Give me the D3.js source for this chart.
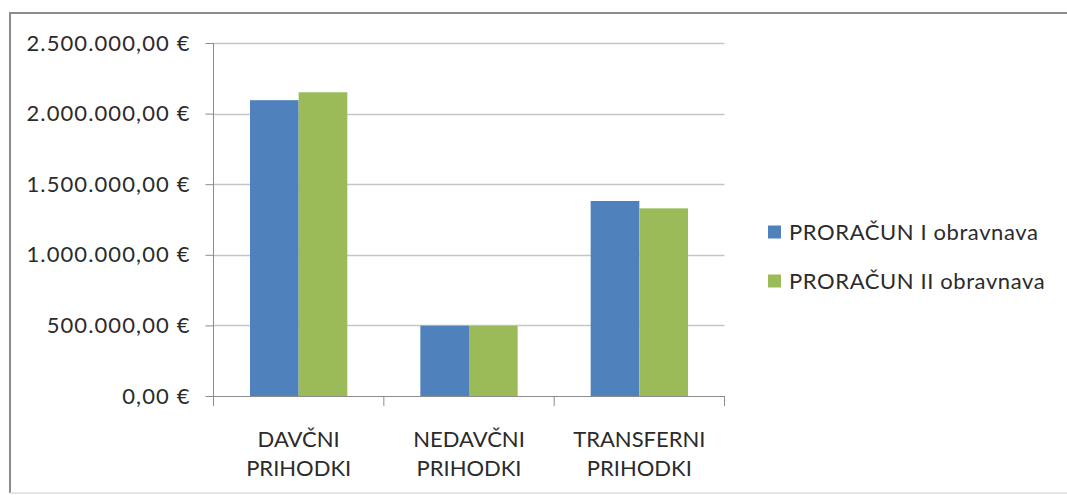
<!DOCTYPE html>
<html><head><meta charset="utf-8">
<script src="https://cdn.jsdelivr.net/npm/d3@7"></script>
<style>body{margin:0;background:#fff}svg{display:block}</style>
</head><body>
<svg id="c" width="1067" height="495"></svg>
<script>
const categories = [["DAVČNI","PRIHODKI"],["NEDAVČNI","PRIHODKI"],["TRANSFERNI","PRIHODKI"]];
const seriesNames = ["PRORAČUN I obravnava","PRORAČUN II obravnava"];
const seriesI = [2095000, 498000, 1381000];
const seriesII = [2151000, 497000, 1329000];
const yTicks = [0, 500000, 1000000, 1500000, 2000000, 2500000];
const colors = ["#4F81BD","#9BBB59"];

(function(){
const svg = d3.select("#c");
const font = "Lato, 'Open Sans', sans-serif";
const txt = "#2b2b2b";
// frame
svg.append("line").attr("x1",10).attr("x2",1067).attr("y1",13).attr("y2",13).attr("stroke","#8c8c8c").attr("stroke-width",2);
svg.append("line").attr("x1",10).attr("x2",10).attr("y1",12).attr("y2",493).attr("stroke","#8c8c8c").attr("stroke-width",2);
svg.append("line").attr("x1",10).attr("x2",1067).attr("y1",493).attr("y2",493).attr("stroke","#dcdcdc").attr("stroke-width",1.5);

const pL = 213.5, pR = 724.5, pT = 43, pB = 396;
const y = d3.scaleLinear().domain([0,2500000]).range([pB, pT]);
const x0 = d3.scaleBand().domain(d3.range(categories.length)).range([pL,pR]).padding(0);
const x1 = d3.scaleBand().domain(d3.range(seriesNames.length)).range([0,x0.bandwidth()]).paddingInner(0).paddingOuter(0.75);

const fmt = v => {
  const s = d3.format(",.2f")(v).replace(/,/g,"#").replace(".",",").replace(/#/g,".");
  return s + " €";
};

// gridlines
svg.append("g").selectAll("line").data(yTicks.filter(d=>d>0)).join("line")
  .attr("x1",pL).attr("x2",pR).attr("y1",d=>Math.round(y(d))+0.5).attr("y2",d=>Math.round(y(d))+0.5)
  .attr("stroke","#c6c6c6").attr("stroke-width",1.5);

// y axis
const yAxis = d3.axisLeft(y).tickValues(yTicks).tickFormat(fmt).tickSize(8).tickPadding(15);
const gy = svg.append("g").attr("transform",`translate(${pL},0)`).call(yAxis);
gy.select(".domain").attr("stroke","#8c8c8c").attr("d",`M0,${pT}V${pB+10}`);
gy.selectAll(".tick line").attr("stroke","#8c8c8c");
gy.selectAll("text").attr("font-family",font).attr("font-size",22).attr("letter-spacing","1.1px").attr("fill",txt);

// bars
const data = categories.map((c,i)=>[seriesI[i], seriesII[i]]);
const g = svg.append("g");
data.forEach((vals,i)=>{
  g.append("g").attr("transform",`translate(${x0(i)},0)`).selectAll("rect").data(vals).join("rect")
    .attr("x",(d,j)=>x1(j)).attr("width",x1.bandwidth()).attr("y",d=>y(d)).attr("height",d=>pB-y(d))
    .attr("fill",(d,j)=>colors[j]);
});

// x axis
const xAxis = d3.axisBottom(x0).tickSize(0).tickFormat("");
const gx = svg.append("g").attr("transform",`translate(0,${pB})`).call(xAxis);
gx.select(".domain").attr("stroke","#8c8c8c").attr("d",`M${pL},0.5H${pR}`);
gx.selectAll(".tk").data(d3.range(categories.length+1)).join("line")
  .attr("x1",i=>pL+i*x0.step()).attr("x2",i=>pL+i*x0.step()).attr("y1",0).attr("y2",10).attr("stroke","#8c8c8c");
categories.forEach((c,i)=>{
  const cx = x0(i)+x0.bandwidth()/2;
  const t = svg.append("text").attr("x",cx).attr("text-anchor","middle")
    .attr("font-family",font).attr("font-size",22).attr("fill",txt);
  c.forEach((line,k)=>t.append("tspan").attr("x",cx).attr("y",447+k*29).text(line));
});

// legend
const lg = svg.append("g");
seriesNames.forEach((n,i)=>{
  const ly = 232 + i*49;
  lg.append("rect").attr("x",768).attr("y",ly-6.5).attr("width",13).attr("height",13).attr("fill",colors[i]);
  lg.append("text").attr("x",789).attr("y",ly+8).attr("font-family",font).attr("font-size",22).attr("letter-spacing","0.6px").attr("fill",txt).text(n);
});
})();
</script>
</body></html>
